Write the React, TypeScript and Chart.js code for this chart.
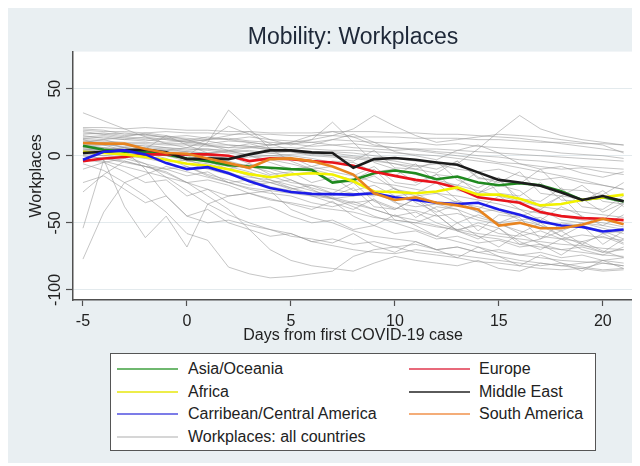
import React, { useEffect, useRef } from "react";
import { Chart, registerables } from "chart.js";

Chart.register(...registerables);
Chart.defaults.font.family = "'Liberation Sans', Arial, sans-serif";

// ---------- data ----------
const days = [-5, -4, -3, -2, -1, 0, 1, 2, 3, 4, 5, 6, 7, 8, 9, 10, 11, 12, 13, 14, 15, 16, 17, 18, 19, 20, 21];

const asiaOceania = [7.5, 4.5, 3, 2.5, 1, -2, -4, -7, -8, -9, -10, -10.5, -20, -18, -13, -11, -13, -17.5, -15.5, -20, -22, -20.5, -22, -26.5, -33, -31, -34];
const europe = [-4, -2, -1, 1, 1, 1, 1, 0, -4, -2, -2.5, -4, -5, -7.5, -12, -15, -18, -20, -24, -31, -33, -35, -42, -45, -46.5, -47, -48];
const africa = [3, 2, 1, -1, -3, -6, -7.5, -10, -13.7, -16, -14, -13, -14, -19, -26.6, -27, -28, -26.6, -23.6, -29, -29, -32, -37, -36, -33, -31, -29];
const middleEast = [2, 3, 4, 4.5, 2.5, -2.5, -2, -2.5, 1, 4, 4, 2.5, 2, -9, -2.5, -1.7, -3, -5, -6.7, -12.4, -18, -20, -22.4, -27.4, -33, -30, -34];
const caribCentral = [-3, 3, 4, 1, -5.5, -10, -8.5, -13, -19, -24, -27, -28.4, -28.6, -29, -28, -31, -33, -35, -36, -35, -40, -44, -49, -52, -53, -56.5, -55];
const southAmerica = [9.5, 9, 9, 5, 2, 1.5, -2, -5.5, -9, -2.5, -2, -4, -8, -14, -28, -33, -31, -35, -37, -40, -52, -50, -54, -54, -51.5, -47, -51];

const g01 = [21, 21, 20, 21, 20, 19, 19, 18, 18, 17, 17, 17, 18, 18, 18, 17, 17, 16, 16, 15, 14, 13, 11, 9, 7, 5, 3];
const g02 = [19, 18, 18, 17, 18, 17, 17, 16, 16, 16, 15, 15, 15, 14, 14, 14, 13, 13, 13, 12, 12, 11, 10, 10, 9, 9, 8];
const g03 = [17, 16, 17, 15, 14, 15, 13, 12, 14, 12, 11, 10, 12, 11, 10, 9, 10, 8, 9, 7, 6, 5, 4, 2, 1, 0, -2];
const g04 = [15, 13, 12, 14, 12, 11, 14, 12, 10, 8, 10, 15, 18, 14, 8, 6, 4, 2, 0, -2, -5, -6, -8, -10, -9, -12, -14];
const g05 = [13, 14, 12, 11, 13, 10, 9, 11, 10, 8, 9, 7, 8, 6, 5, 4, 5, 3, 2, 0, -1, -3, -4, -6, -8, -9, -10];
const g06 = [12, 11, 10, 10, 9, 9, 8, 8, 7, 6, 6, 5, 4, 4, 3, 2, 1, 0, -2, -4, -6, -9, -12, -15, -18, -22, -25];
const g07 = [32, 26, 20, 14, 9, 6, 12, 22, 16, 9, 4, 8, 12, 16, 10, 3, 0, -3, 4, 8, 2, -6, -10, -8, -13, -16, -12];
const g08 = [10, 9, 6, 4, 2, 0, 10, 34, 20, 5, -4, -10, -8, -14, -20, -22, -25, -28, -30, -33, -36, -40, -43, -45, -48, -50, -53];
const g09 = [-77, -42, -20, -14, -8, -12, -16, -20, -18, -23, -26, -29, -31, -35, -33, -39, -41, -45, -43, -48, -51, -56, -60, -62, -59, -61, -63];
const g10 = [-54, -3, -38, -61, -45, -68, -36, -30, -28, -26, -40, -46, -50, -56, -60, -62, -64, -70, -68, -72, -75, -78, -80, -82, -80, -78, -80];
const g11 = [-27, -14, -4, -8, -13, -20, -25, -30, -28, -33, -35, -38, -40, -42, -46, -48, -50, -53, -55, -58, -60, -62, -64, -66, -67, -69, -70];
const g12 = [-6, -11, -20, -30, -42, -58, -63, -83, -88, -91, -90, -88, -86, -75, -70, -68, -72, -74, -76, -79, -80, -82, -84, -85, -84, -86, -85];
const g13 = [5, 3, 0, -6, -16, -26, -36, -44, -50, -55, -60, -62, -65, -58, -67, -72, -64, -70, -76, -68, -75, -82, -74, -80, -86, -78, -84];
const g14 = [8, 6, 4, -10, -30, -45, -50, -48, -52, -55, -58, -64, -67, -70, -72, -73, -70, -72, -74, -76, -78, -80, -82, -80, -83, -85, -84];
const g15 = [6, 5, 6, 4, 3, 2, 0, -5, -10, -15, -20, -22, -25, -28, -30, -24, -35, -42, -36, -42, -50, -44, -52, -60, -52, -56, -62];
const g16 = [4, 5, 3, 4, 2, 1, -2, -4, -8, -12, -18, -24, -28, -20, -34, -40, -32, -40, -50, -44, -50, -58, -50, -60, -66, -58, -65];
const g17 = [2, 3, 4, 2, 0, -2, -5, -8, -12, -18, -24, -30, -35, -40, -32, -48, -50, -44, -56, -62, -54, -64, -70, -62, -70, -74, -68];
const g18 = [9, 8, 7, 8, 6, 5, 4, 2, 0, -3, -6, -10, -14, -18, -10, -25, -28, -20, -33, -40, -30, -40, -48, -38, -45, -52, -44];
const g19 = [11, 10, 9, 9, 8, 8, 7, 6, 6, 5, 4, 3, 2, 0, -2, -4, -7, -10, -4, -16, -20, -12, -28, -30, -22, -34, -36];
const g20 = [7, 6, 5, 6, 5, 3, 2, 3, 1, 0, -1, -8, -4, -5, -12, -10, -20, -14, -16, -28, -22, -26, -38, -30, -32, -42, -35];
const g21 = [3, 2, 0, -2, -5, -3, -8, -12, -18, -20, -25, -22, -28, -30, -26, -35, -38, -36, -40, -46, -50, -48, -52, -56, -50, -54, -58];
const g22 = [0, -2, -5, -8, -10, -15, -12, -20, -25, -28, -30, -35, -38, -34, -40, -45, -42, -50, -55, -52, -58, -60, -56, -62, -64, -60, -66];
const g23 = [-2, -4, -8, -12, -16, -20, -18, -22, -28, -32, -36, -40, -34, -45, -52, -44, -52, -60, -50, -60, -68, -58, -66, -74, -64, -71, -76];
const g24 = [10, 12, 8, 5, 15, 8, 2, 0, -6, -10, -14, -12, -18, -20, -15, -25, -30, -28, -35, -38, -42, -45, -40, -48, -50, -52, -55];
const g25 = [14, 15, 13, 12, 10, 11, 8, 6, 9, 5, 3, 2, 0, -2, -4, -6, -8, -6, -10, -12, -10, -15, -18, -16, -20, -22, -25];
const g26 = [16, 17, 15, 16, 14, 13, 12, 13, 11, 10, 9, 10, 8, 9, 7, 6, 5, 5, 4, 3, 2, 1, 0, -1, -2, -3, -4];
const g27 = [12, 8, 4, 6, 2, 0, -4, -10, -6, -14, -12, -20, -16, -26, -22, -30, -28, -36, -34, -42, -40, -48, -46, -54, -52, -58, -56];
const g28 = [-10, -5, -12, -20, -18, -30, -25, -35, -40, -38, -45, -50, -48, -55, -52, -58, -56, -62, -60, -65, -63, -68, -66, -70, -68, -72, -70];
const g29 = [8, 10, 6, 2, -2, -8, -15, -20, -24, -26, -28, -30, -32, -30, -28, -34, -46, -38, -40, -56, -44, -46, -62, -50, -52, -66, -56];
const g30 = [5, 4, 6, 5, 4, 6, 5, 4, 3, 2, 3, 1, 0, -1, -3, -6, -10, -4, -18, -24, -16, -36, -40, -30, -46, -48, -36];
const g31 = [6, 5, 4, 5, 4, 3, 2, 4, 6, 8, 10, 12, 15, 20, 30, 22, 15, 10, 12, 14, 16, 15, 14, 12, 10, 8, 2];
const g32 = [4, 3, 4, 3, 2, 1, 0, -2, -1, 0, 1, 2, 3, 2, 0, -2, -4, -5, -6, 5, 18, 30, 20, 15, 12, 10, 8];
const g33 = [18, 16, 14, 17, 15, 12, 8, 4, 0, -5, -10, -8, -12, -15, -8, -20, -22, -14, -26, -28, -18, -32, -34, -24, -38, -40, -30];
const g34 = [2, 0, -1, 1, 0, -4, -6, -10, -15, -20, -18, -25, -32, -38, -45, -50, -55, -60, -64, -68, -72, -74, -76, -78, -79, -80, -82];
const g35 = [-3, -5, -2, -6, -10, -8, -14, -18, -22, -20, -24, -28, -32, -36, -40, -45, -48, -52, -56, -60, -62, -66, -68, -70, -72, -74, -75];
const g36 = [7, 8, 9, 7, 6, 4, 5, 3, 4, 2, 0, -2, -5, -8, -12, -15, -6, -20, -22, -12, -28, -30, -20, -33, -34, -26, -38];
const g37 = [1, 0, 2, 0, -3, -6, -10, -14, -16, -18, -22, -26, -30, -24, -38, -40, -32, -44, -56, -50, -54, -66, -62, -56, -66, -72, -62];
const g38 = [13, 12, 14, 13, 12, 10, 12, 15, 18, 12, 8, 12, 25, 10, -5, -10, -14, -18, -22, -26, -30, -34, -38, -40, -42, -44, -46];
const g39 = [20, 19, 16, 16, 13, 12, 11, 8, 7, 4, 3, 0, -1, -4, 4, -9, -10, -13, -4, -17, -18, -21, -10, -25, -26, -29, -20];
const g40 = [-20, -15, -25, -35, -30, -45, -40, -50, -55, -60, -58, -64, -62, -66, -64, -68, -66, -70, -68, -72, -70, -74, -72, -76, -74, -78, -76];
const g41 = [0, -2, -4, -8, -12, -20, -30, -40, -55, -70, -78, -82, -84, -86, -80, -75, -78, -80, -82, -78, -84, -86, -80, -82, -84, -80, -82];

const allCountries = [g01, g02, g03, g04, g05, g06, g07, g08, g09, g10, g11, g12, g13, g14, g15, g16, g17, g18, g19, g20,
  g21, g22, g23, g24, g25, g26, g27, g28, g29, g30, g31, g32, g33, g34, g35, g36, g37, g38, g39, g40, g41];

const xTicks = [-5, 0, 5, 10, 15, 20];
const yTicks = [-100, -50, 0, 50];

const regionLabels = ["Asia/Oceania", "Europe", "Africa", "Middle East", "Carribean/Central America", "South America"];
const regionSeries = [asiaOceania, europe, africa, middleEast, caribCentral, southAmerica];
const regionColors = ["#208a20", "#e8141c", "#f2f200", "#1c1c1c", "#1c1ce8", "#e8841f"];
const legendColors = ["#6fb86f", "#e8697a", "#eded4a", "#5a5a5a", "#7c7ce8", "#f4ad78"];
const allLabel = "Workplaces: all countries";
const allLegendColor = "#d6d6d6";

const toPoints = (vals: number[]) => vals.map((v, i) => ({ x: days[i], y: v }));

const plotBg = {
  id: "plotBg",
  beforeDraw(chart: any) {
    const { ctx, chartArea: a } = chart;
    ctx.save();
    ctx.fillStyle = "#ffffff";
    ctx.fillRect(a.left, a.top, a.right - a.left, a.bottom - a.top);
    ctx.restore();
  },
};

export default function App() {
  const ref = useRef<HTMLCanvasElement>(null);

  useEffect(() => {
    if (!ref.current) return;
    const regionSets = regionSeries.map((s, i) => ({
      label: regionLabels[i],
      data: toPoints(s),
      borderColor: regionColors[i],
      borderWidth: 2.6,
      pointRadius: 0,
      tension: 0,
      fill: false,
    }));
    const graySets = allCountries.map((s, i) => ({
      label: i === 0 ? allLabel : "",
      data: toPoints(s),
      borderColor: "rgba(150,150,150,0.55)",
      borderWidth: 1,
      pointRadius: 0,
      tension: 0,
      fill: false,
    }));
    const chart = new Chart(ref.current, {
      type: "line",
      data: { datasets: [...regionSets.reverse(), ...graySets] as any },
      plugins: [plotBg],
      options: {
        animation: false,
        responsive: false,
        maintainAspectRatio: false,
        layout: { padding: { left: 0, right: 7, top: 0, bottom: 0 } },
        plugins: {
          legend: { display: false },
          tooltip: { enabled: false },
          title: {
            display: true,
            text: "Mobility: Workplaces",
            fullSize: false,
            color: "#1e2838",
            font: { size: 23, weight: "normal", lineHeight: 1.2 },
            padding: { top: 16, bottom: 0 },
          },
        },
        scales: {
          x: {
            type: "linear",
            min: -5.48,
            max: 21.45,
            afterBuildTicks: (s: any) => { s.ticks = xTicks.map((v) => ({ value: v })); },
            afterFit: (s: any) => { s.height = 53; },
            ticks: { padding: 6, color: "#222", font: { size: 16 }, callback: (v: any) => String(v) },
            grid: { drawOnChartArea: false, tickLength: 6, tickColor: "#505050", tickWidth: 1.2 },
            border: { display: true, color: "#505050", width: 1.5 },
            title: {
              display: true,
              text: "Days from first COVID-19 case",
              color: "#222",
              font: { size: 16, lineHeight: 1.2 },
              padding: { top: 0, bottom: 7.4 },
            },
          },
          y: {
            type: "linear",
            min: -107.5,
            max: 77.6,
            afterBuildTicks: (s: any) => { s.ticks = yTicks.map((v) => ({ value: v })); },
            afterFit: (s: any) => { s.width = 65; },
            ticks: {
              minRotation: 90,
              maxRotation: 90,
              crossAlign: "center",
              padding: -6,
              color: "#222",
              font: { size: 16 },
              callback: (v: any) => String(v),
            },
            grid: { color: "#e3eaed", lineWidth: 1, tickLength: 7, tickColor: "#505050", tickWidth: 1.2 },
            border: { display: true, color: "#505050", width: 1.5 },
            title: {
              display: true,
              text: "Workplaces",
              color: "#222",
              font: { size: 16, lineHeight: 1.2 },
              padding: { top: 19.4, bottom: 0 },
            },
          },
        },
      } as any,
    });
    return () => chart.destroy();
  }, []);

  const leftCol = [
    { label: regionLabels[0], color: legendColors[0] },
    { label: regionLabels[2], color: legendColors[2] },
    { label: regionLabels[4], color: legendColors[4] },
    { label: allLabel, color: allLegendColor },
  ];
  const rightCol = [
    { label: regionLabels[1], color: legendColors[1] },
    { label: regionLabels[3], color: legendColors[3] },
    { label: regionLabels[5], color: legendColors[5] },
  ];
  const rowCenters = [15, 38, 60, 83];

  const item = (e: { label: string; color: string }, i: number, lineX: number, textX: number) => (
    <div key={e.label} style={{ position: "absolute", left: 0, top: rowCenters[i] - 11, height: 22, width: "100%" }}>
      <div style={{ position: "absolute", left: lineX, top: 10, width: 61, height: 2, background: e.color }} />
      <div style={{ position: "absolute", left: textX, top: 0, height: 22, lineHeight: "22px", fontSize: 16, color: "#222", whiteSpace: "nowrap" }}>
        {e.label}
      </div>
    </div>
  );

  return (
    <div style={{ position: "relative", width: 632, height: 455, background: "#e9eff2", fontFamily: "'Liberation Sans', Arial, sans-serif" }}>
      <canvas ref={ref} width={632} height={345} style={{ position: "absolute", left: 0, top: 0, width: 632, height: 345 }} />
      <div style={{ position: "absolute", left: 102, top: 345, width: 486, height: 98, boxSizing: "border-box", background: "#fff", border: "1.5px solid #555" }}>
        {leftCol.map((e, i) => item(e, i, 6, 77))}
        {rightCol.map((e, i) => item(e, i, 298, 368))}
      </div>
    </div>
  );
}
